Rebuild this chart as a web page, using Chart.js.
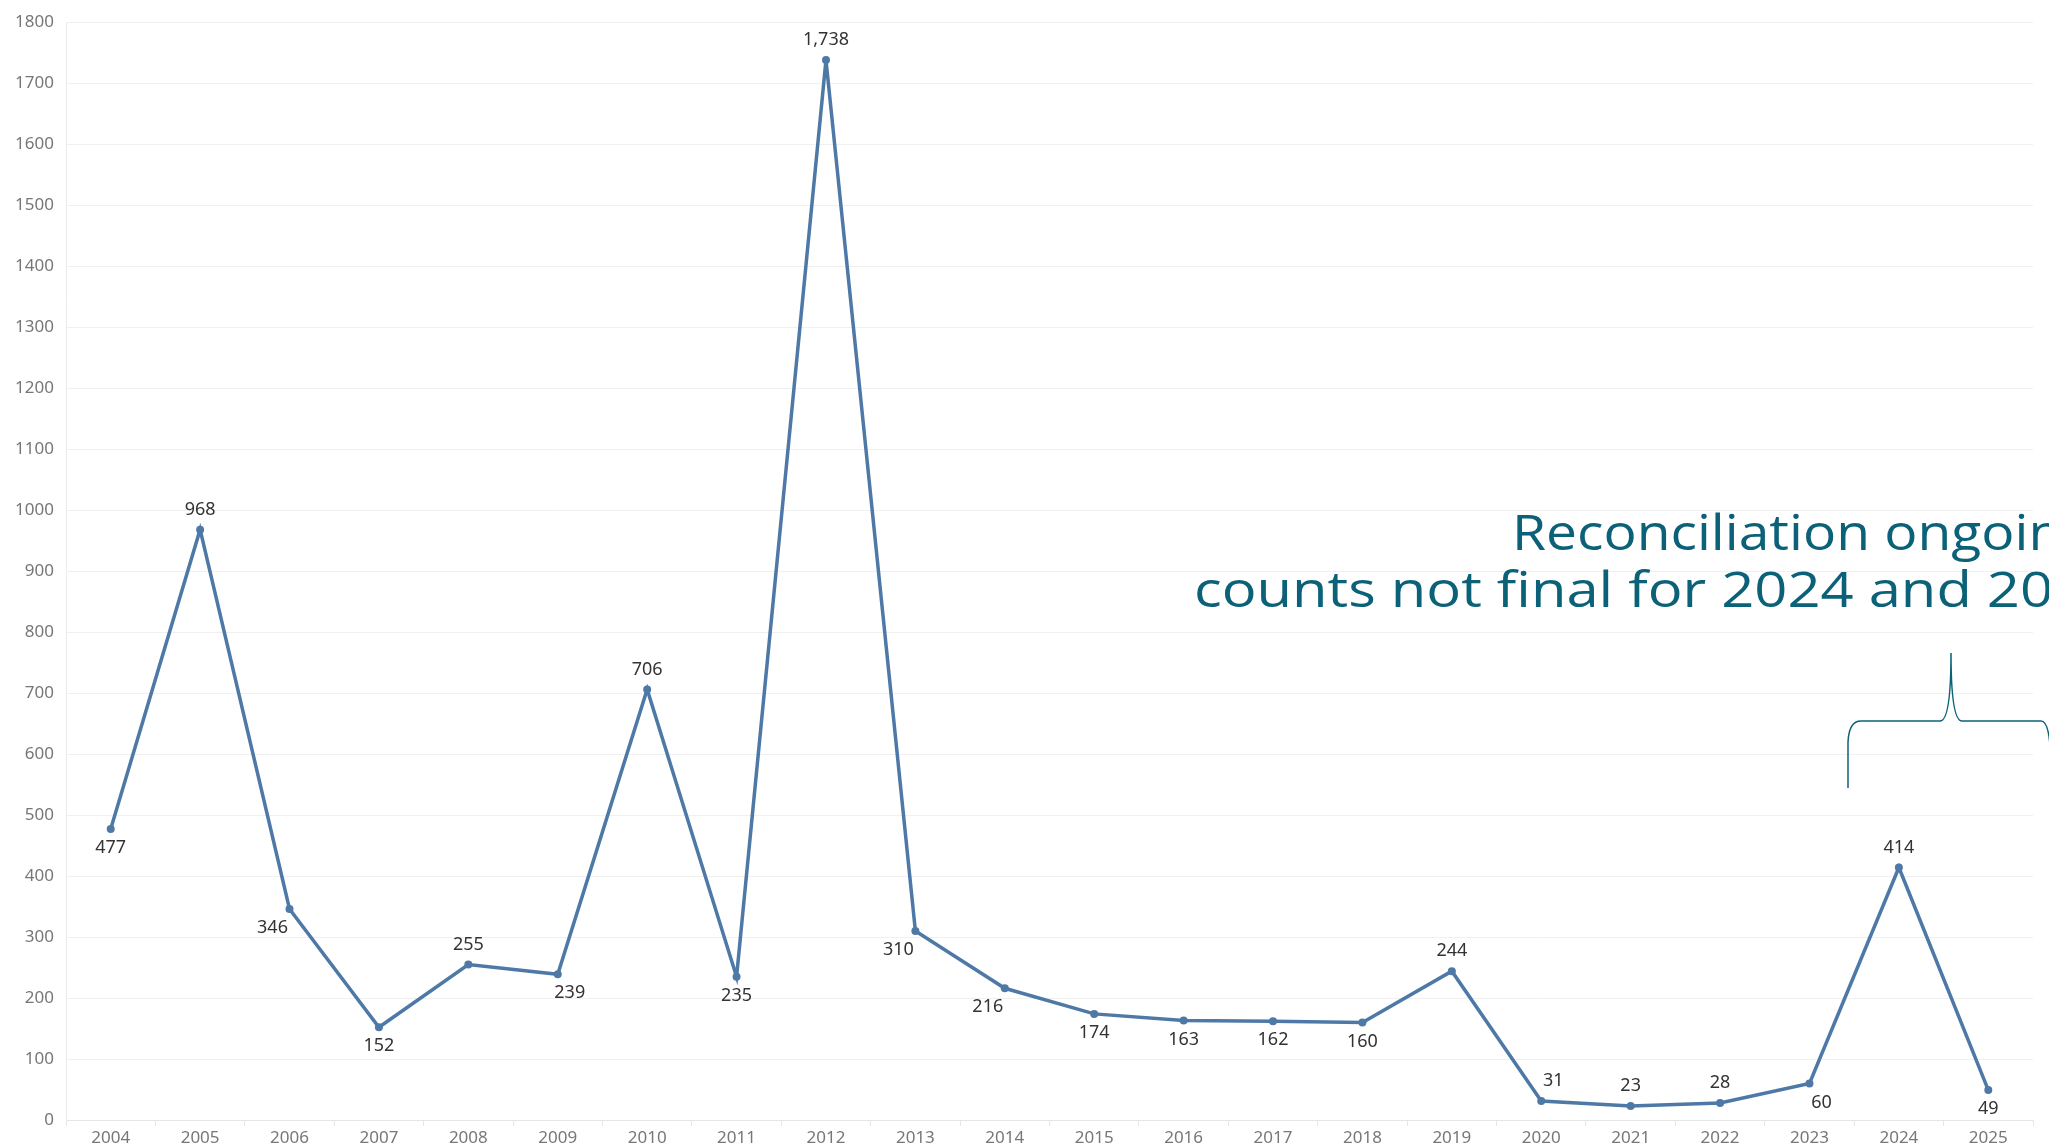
<!DOCTYPE html>
<html>
<head>
<meta charset="utf-8">
<script src="https://cdn.jsdelivr.net/npm/chart.js@4.4.1/dist/chart.umd.min.js"></script>
<style>
  html, body { margin: 0; padding: 0; background: #fff; }
  #wrap { width: 2049px; height: 1147px; position: relative; }
</style>
</head>
<body>
<div id="wrap"><canvas id="myChart"></canvas></div>
<script>
const years = ['2004', '2005', '2006', '2007', '2008', '2009', '2010', '2011', '2012', '2013', '2014',
               '2015', '2016', '2017', '2018', '2019', '2020', '2021', '2022', '2023', '2024', '2025'];
const counts = [477, 968, 346, 152, 255, 239, 706, 235, 1738, 310, 216,
                174, 163, 162, 160, 244, 31, 23, 28, 60, 414, 49];
// where each value label sits relative to its point
const labelPos = ['b', 'a', 'bl', 'b', 'a', 'br', 'a', 'b', 'a', 'bl', 'bl',
                  'b', 'b', 'b', 'b', 'a', 'ar', 'a', 'a', 'br', 'a', 'b'];
const yTicks = [0, 1800, 100];
const noteLines = ['Reconciliation ongoing;', 'counts not final for 2024 and 2025'];

const teal = '#0b6178';
const lineBlue = '#4e79a7';

const extras = {
    id: 'extras',
    afterDatasetsDraw(chart) {
        const ctx = chart.ctx;
        const pts = chart.getDatasetMeta(0).data;
        ctx.save();
        // value labels
        ctx.font = '18px "Noto Sans"';
        ctx.fillStyle = '#333';
        ctx.textAlign = 'center';
        ctx.textBaseline = 'middle';
        pts.forEach((p, i) => {
            const pos = labelPos[i];
            let dx = 0, dy = pos[0] === 'a' ? -20 : 19;
            if (pos[1] === 'l') dx = -17;
            if (pos[1] === 'r') dx = 12;
            ctx.fillText(counts[i].toLocaleString('en-US'), p.x + dx, p.y + dy);
        });

        // note text - stretched so the wider original face is matched
        ctx.fillStyle = teal;
        ctx.textAlign = 'left';
        ctx.textBaseline = 'alphabetic';
        ctx.font = '49px "Open Sans"';
        const sx1 = 358 / ctx.measureText('Reconciliation').width;
        const sx2 = 490 / ctx.measureText('final for 2024 and ').width;
        ctx.save();
        ctx.translate(1512, 550);
        ctx.scale(sx1, 1);
        ctx.fillText(noteLines[0], 0, 0);
        ctx.restore();
        ctx.save();
        ctx.translate(1194, 607);
        ctx.scale(sx2, 1);
        ctx.fillText(noteLines[1], 0, 0);
        ctx.restore();

        // curly brace over the last years
        ctx.strokeStyle = teal;
        ctx.lineWidth = 1.5;
        ctx.beginPath();
        ctx.moveTo(1848, 788);
        ctx.lineTo(1848, 742);
        ctx.quadraticCurveTo(1849, 721, 1861, 721);
        ctx.lineTo(1940, 721);
        ctx.quadraticCurveTo(1951, 721, 1951, 653);
        ctx.quadraticCurveTo(1951, 721, 1962, 721);
        ctx.lineTo(2041, 721);
        ctx.quadraticCurveTo(2048, 721, 2050, 745);
        ctx.stroke();
        ctx.restore();
    }
};

new Chart(document.getElementById('myChart'), {
    type: 'line',
    data: {
        labels: years,
        datasets: [{
            label: 'Count',
            data: counts,
            borderColor: lineBlue,
            backgroundColor: lineBlue,
            borderWidth: 3.5,
            tension: 0,
            pointRadius: 4,
            pointBorderWidth: 0,
            pointHoverRadius: 4
        }]
    },
    options: {
        responsive: true,
        maintainAspectRatio: false,
        animation: false,
        layout: {
            padding: { top: 18, right: 16, left: 0, bottom: 0 }
        },
        scales: {
            x: {
                offset: true,
                grid: {
                    display: true,
                    offset: true,
                    drawOnChartArea: false,
                    drawTicks: true,
                    tickLength: 6,
                    color: '#e6e6e6'
                },
                border: { display: true, color: '#e6e6e6' },
                ticks: {
                    color: '#777',
                    font: { family: 'Noto Sans', size: 17 },
                    maxRotation: 0,
                    autoSkip: false,
                    padding: 2
                },
                afterFit(scale) { scale.height = 27; }
            },
            y: {
                min: yTicks[0],
                max: yTicks[1],
                grid: {
                    color: '#f0f0f0',
                    drawTicks: false
                },
                border: { display: true, color: '#ececec' },
                ticks: {
                    stepSize: yTicks[2],
                    color: '#777',
                    font: { family: 'Noto Sans', size: 17 },
                    padding: 12,
                    callback: (v) => String(v)
                },
                afterFit(scale) { scale.width = 66; }
            }
        },
        plugins: {
            legend: { display: false },
            tooltip: { enabled: false }
        }
    },
    plugins: [extras]
});
</script>
</body>
</html>
